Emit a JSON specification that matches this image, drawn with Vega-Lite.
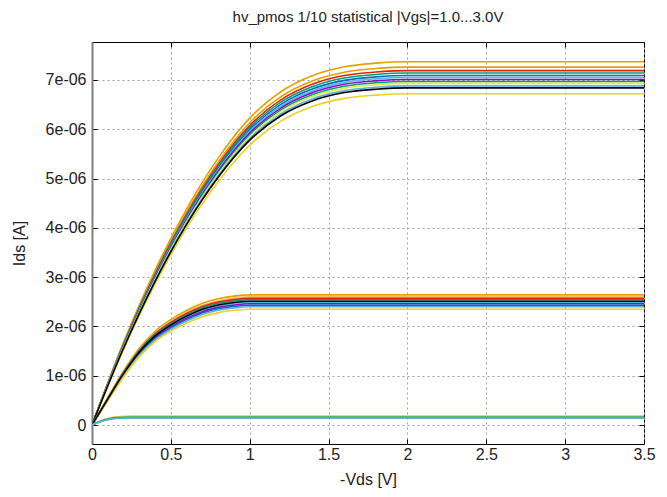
{
"$schema":"https://vega.github.io/schema/vega-lite/v6.json",
"width":552,"height":402,
"autosize":{"type":"none"},
"padding":{"left":92,"top":42,"right":23,"bottom":53},
"background":"white",
"title":{"text":"hv_pmos 1/10 statistical |Vgs|=1.0...3.0V","fontSize":15,"fontWeight":"normal","font":"Liberation Sans","color":"#222","offset":17,"anchor":"middle"},
"config":{
"view":{"stroke":"#000","strokeWidth":1},
"axis":{"labelFont":"Liberation Sans","titleFont":"Liberation Sans","labelFontSize":16,"titleFontSize":16,"titleFontWeight":"normal","labelColor":"#222","titleColor":"#222","tickColor":"#000","gridColor":"#a0a0a0","gridDash":[2,3],"gridWidth":1,"labelFlush":false,"labelOverlap":false}
},
"data":{"values":[
{"curve":"v3a","vds":0,"ids":0},{"curve":"v3a","vds":0.2,"ids":1.678},{"curve":"v3a","vds":0.4,"ids":3.140},{"curve":"v3a","vds":0.6,"ids":4.385},{"curve":"v3a","vds":0.8,"ids":5.414},{"curve":"v3a","vds":1.0,"ids":6.226},{"curve":"v3a","vds":1.2,"ids":6.766},{"curve":"v3a","vds":1.4,"ids":7.090},{"curve":"v3a","vds":1.6,"ids":7.267},{"curve":"v3a","vds":1.8,"ids":7.341},{"curve":"v3a","vds":2.0,"ids":7.37},{"curve":"v3a","vds":3.5,"ids":7.37},
{"curve":"v3b","vds":0,"ids":0},{"curve":"v3b","vds":0.2,"ids":1.653},{"curve":"v3b","vds":0.4,"ids":3.093},{"curve":"v3b","vds":0.6,"ids":4.320},{"curve":"v3b","vds":0.8,"ids":5.333},{"curve":"v3b","vds":1.0,"ids":6.133},{"curve":"v3b","vds":1.2,"ids":6.665},{"curve":"v3b","vds":1.4,"ids":6.984},{"curve":"v3b","vds":1.6,"ids":7.158},{"curve":"v3b","vds":1.8,"ids":7.231},{"curve":"v3b","vds":2.0,"ids":7.26},{"curve":"v3b","vds":3.5,"ids":7.26},
{"curve":"v3c","vds":0,"ids":0},{"curve":"v3c","vds":0.2,"ids":1.637},{"curve":"v3c","vds":0.4,"ids":3.063},{"curve":"v3c","vds":0.6,"ids":4.278},{"curve":"v3c","vds":0.8,"ids":5.282},{"curve":"v3c","vds":1.0,"ids":6.074},{"curve":"v3c","vds":1.2,"ids":6.600},{"curve":"v3c","vds":1.4,"ids":6.917},{"curve":"v3c","vds":1.6,"ids":7.089},{"curve":"v3c","vds":1.8,"ids":7.161},{"curve":"v3c","vds":2.0,"ids":7.19},{"curve":"v3c","vds":3.5,"ids":7.19},
{"curve":"v3d","vds":0,"ids":0},{"curve":"v3d","vds":0.2,"ids":1.626},{"curve":"v3d","vds":0.4,"ids":3.042},{"curve":"v3d","vds":0.6,"ids":4.248},{"curve":"v3d","vds":0.8,"ids":5.245},{"curve":"v3d","vds":1.0,"ids":6.032},{"curve":"v3d","vds":1.2,"ids":6.555},{"curve":"v3d","vds":1.4,"ids":6.869},{"curve":"v3d","vds":1.6,"ids":7.040},{"curve":"v3d","vds":1.8,"ids":7.111},{"curve":"v3d","vds":2.0,"ids":7.14},{"curve":"v3d","vds":3.5,"ids":7.14},
{"curve":"v3e","vds":0,"ids":0},{"curve":"v3e","vds":0.2,"ids":1.614},{"curve":"v3e","vds":0.4,"ids":3.020},{"curve":"v3e","vds":0.6,"ids":4.219},{"curve":"v3e","vds":0.8,"ids":5.208},{"curve":"v3e","vds":1.0,"ids":5.990},{"curve":"v3e","vds":1.2,"ids":6.509},{"curve":"v3e","vds":1.4,"ids":6.821},{"curve":"v3e","vds":1.6,"ids":6.991},{"curve":"v3e","vds":1.8,"ids":7.062},{"curve":"v3e","vds":2.0,"ids":7.09},{"curve":"v3e","vds":3.5,"ids":7.09},
{"curve":"v3f","vds":0,"ids":0},{"curve":"v3f","vds":0.2,"ids":1.605},{"curve":"v3f","vds":0.4,"ids":3.003},{"curve":"v3f","vds":0.6,"ids":4.195},{"curve":"v3f","vds":0.8,"ids":5.179},{"curve":"v3f","vds":1.0,"ids":5.956},{"curve":"v3f","vds":1.2,"ids":6.472},{"curve":"v3f","vds":1.4,"ids":6.782},{"curve":"v3f","vds":1.6,"ids":6.951},{"curve":"v3f","vds":1.8,"ids":7.022},{"curve":"v3f","vds":2.0,"ids":7.05},{"curve":"v3f","vds":3.5,"ids":7.05},
{"curve":"v3g","vds":0,"ids":0},{"curve":"v3g","vds":0.2,"ids":1.596},{"curve":"v3g","vds":0.4,"ids":2.986},{"curve":"v3g","vds":0.6,"ids":4.171},{"curve":"v3g","vds":0.8,"ids":5.150},{"curve":"v3g","vds":1.0,"ids":5.922},{"curve":"v3g","vds":1.2,"ids":6.435},{"curve":"v3g","vds":1.4,"ids":6.744},{"curve":"v3g","vds":1.6,"ids":6.912},{"curve":"v3g","vds":1.8,"ids":6.982},{"curve":"v3g","vds":2.0,"ids":7.01},{"curve":"v3g","vds":3.5,"ids":7.01},
{"curve":"v3h","vds":0,"ids":0},{"curve":"v3h","vds":0.2,"ids":1.587},{"curve":"v3h","vds":0.4,"ids":2.969},{"curve":"v3h","vds":0.6,"ids":4.147},{"curve":"v3h","vds":0.8,"ids":5.120},{"curve":"v3h","vds":1.0,"ids":5.888},{"curve":"v3h","vds":1.2,"ids":6.398},{"curve":"v3h","vds":1.4,"ids":6.705},{"curve":"v3h","vds":1.6,"ids":6.872},{"curve":"v3h","vds":1.8,"ids":6.942},{"curve":"v3h","vds":2.0,"ids":6.97},{"curve":"v3h","vds":3.5,"ids":6.97},
{"curve":"v3i","vds":0,"ids":0},{"curve":"v3i","vds":0.2,"ids":1.578},{"curve":"v3i","vds":0.4,"ids":2.952},{"curve":"v3i","vds":0.6,"ids":4.123},{"curve":"v3i","vds":0.8,"ids":5.091},{"curve":"v3i","vds":1.0,"ids":5.854},{"curve":"v3i","vds":1.2,"ids":6.362},{"curve":"v3i","vds":1.4,"ids":6.667},{"curve":"v3i","vds":1.6,"ids":6.833},{"curve":"v3i","vds":1.8,"ids":6.902},{"curve":"v3i","vds":2.0,"ids":6.93},{"curve":"v3i","vds":3.5,"ids":6.93},
{"curve":"v3j","vds":0,"ids":0},{"curve":"v3j","vds":0.2,"ids":1.567},{"curve":"v3j","vds":0.4,"ids":2.931},{"curve":"v3j","vds":0.6,"ids":4.094},{"curve":"v3j","vds":0.8,"ids":5.054},{"curve":"v3j","vds":1.0,"ids":5.812},{"curve":"v3j","vds":1.2,"ids":6.316},{"curve":"v3j","vds":1.4,"ids":6.619},{"curve":"v3j","vds":1.6,"ids":6.784},{"curve":"v3j","vds":1.8,"ids":6.852},{"curve":"v3j","vds":2.0,"ids":6.88},{"curve":"v3j","vds":3.5,"ids":6.88},
{"curve":"v3l","vds":0,"ids":0},{"curve":"v3l","vds":0.2,"ids":1.530},{"curve":"v3l","vds":0.4,"ids":2.863},{"curve":"v3l","vds":0.6,"ids":3.998},{"curve":"v3l","vds":0.8,"ids":4.937},{"curve":"v3l","vds":1.0,"ids":5.677},{"curve":"v3l","vds":1.2,"ids":6.169},{"curve":"v3l","vds":1.4,"ids":6.465},{"curve":"v3l","vds":1.6,"ids":6.626},{"curve":"v3l","vds":1.8,"ids":6.693},{"curve":"v3l","vds":2.0,"ids":6.72},{"curve":"v3l","vds":3.5,"ids":6.72},
{"curve":"v3k","vds":0,"ids":0},{"curve":"v3k","vds":0.2,"ids":1.557},{"curve":"v3k","vds":0.4,"ids":2.914},{"curve":"v3k","vds":0.6,"ids":4.070},{"curve":"v3k","vds":0.8,"ids":5.025},{"curve":"v3k","vds":1.0,"ids":5.778},{"curve":"v3k","vds":1.2,"ids":6.279},{"curve":"v3k","vds":1.4,"ids":6.580},{"curve":"v3k","vds":1.6,"ids":6.744},{"curve":"v3k","vds":1.8,"ids":6.813},{"curve":"v3k","vds":2.0,"ids":6.84},{"curve":"v3k","vds":3.5,"ids":6.84},
{"curve":"v2a","vds":0,"ids":0},{"curve":"v2a","vds":0.1,"ids":0.554},{"curve":"v2a","vds":0.2,"ids":1.096},{"curve":"v2a","vds":0.3,"ids":1.558},{"curve":"v2a","vds":0.4,"ids":1.901},{"curve":"v2a","vds":0.5,"ids":2.138},{"curve":"v2a","vds":0.6,"ids":2.323},{"curve":"v2a","vds":0.7,"ids":2.468},{"curve":"v2a","vds":0.8,"ids":2.561},{"curve":"v2a","vds":0.9,"ids":2.614},{"curve":"v2a","vds":1.0,"ids":2.64},{"curve":"v2a","vds":3.5,"ids":2.64},
{"curve":"v2b","vds":0,"ids":0},{"curve":"v2b","vds":0.1,"ids":0.546},{"curve":"v2b","vds":0.2,"ids":1.079},{"curve":"v2b","vds":0.3,"ids":1.534},{"curve":"v2b","vds":0.4,"ids":1.872},{"curve":"v2b","vds":0.5,"ids":2.106},{"curve":"v2b","vds":0.6,"ids":2.288},{"curve":"v2b","vds":0.7,"ids":2.431},{"curve":"v2b","vds":0.8,"ids":2.522},{"curve":"v2b","vds":0.9,"ids":2.574},{"curve":"v2b","vds":1.0,"ids":2.60},{"curve":"v2b","vds":3.5,"ids":2.60},
{"curve":"v2c","vds":0,"ids":0},{"curve":"v2c","vds":0.1,"ids":0.540},{"curve":"v2c","vds":0.2,"ids":1.067},{"curve":"v2c","vds":0.3,"ids":1.516},{"curve":"v2c","vds":0.4,"ids":1.850},{"curve":"v2c","vds":0.5,"ids":2.082},{"curve":"v2c","vds":0.6,"ids":2.262},{"curve":"v2c","vds":0.7,"ids":2.403},{"curve":"v2c","vds":0.8,"ids":2.493},{"curve":"v2c","vds":0.9,"ids":2.544},{"curve":"v2c","vds":1.0,"ids":2.57},{"curve":"v2c","vds":3.5,"ids":2.57},
{"curve":"v2d","vds":0,"ids":0},{"curve":"v2d","vds":0.1,"ids":0.533},{"curve":"v2d","vds":0.2,"ids":1.054},{"curve":"v2d","vds":0.3,"ids":1.499},{"curve":"v2d","vds":0.4,"ids":1.829},{"curve":"v2d","vds":0.5,"ids":2.057},{"curve":"v2d","vds":0.6,"ids":2.235},{"curve":"v2d","vds":0.7,"ids":2.375},{"curve":"v2d","vds":0.8,"ids":2.464},{"curve":"v2d","vds":0.9,"ids":2.515},{"curve":"v2d","vds":1.0,"ids":2.54},{"curve":"v2d","vds":3.5,"ids":2.54},
{"curve":"v2f","vds":0,"ids":0},{"curve":"v2f","vds":0.1,"ids":0.523},{"curve":"v2f","vds":0.2,"ids":1.033},{"curve":"v2f","vds":0.3,"ids":1.469},{"curve":"v2f","vds":0.4,"ids":1.793},{"curve":"v2f","vds":0.5,"ids":2.017},{"curve":"v2f","vds":0.6,"ids":2.191},{"curve":"v2f","vds":0.7,"ids":2.328},{"curve":"v2f","vds":0.8,"ids":2.415},{"curve":"v2f","vds":0.9,"ids":2.465},{"curve":"v2f","vds":1.0,"ids":2.49},{"curve":"v2f","vds":3.5,"ids":2.49},
{"curve":"v2g","vds":0,"ids":0},{"curve":"v2g","vds":0.1,"ids":0.517},{"curve":"v2g","vds":0.2,"ids":1.021},{"curve":"v2g","vds":0.3,"ids":1.451},{"curve":"v2g","vds":0.4,"ids":1.771},{"curve":"v2g","vds":0.5,"ids":1.993},{"curve":"v2g","vds":0.6,"ids":2.165},{"curve":"v2g","vds":0.7,"ids":2.300},{"curve":"v2g","vds":0.8,"ids":2.386},{"curve":"v2g","vds":0.9,"ids":2.435},{"curve":"v2g","vds":1.0,"ids":2.46},{"curve":"v2g","vds":3.5,"ids":2.46},
{"curve":"v2h","vds":0,"ids":0},{"curve":"v2h","vds":0.1,"ids":0.510},{"curve":"v2h","vds":0.2,"ids":1.008},{"curve":"v2h","vds":0.3,"ids":1.434},{"curve":"v2h","vds":0.4,"ids":1.750},{"curve":"v2h","vds":0.5,"ids":1.968},{"curve":"v2h","vds":0.6,"ids":2.138},{"curve":"v2h","vds":0.7,"ids":2.272},{"curve":"v2h","vds":0.8,"ids":2.357},{"curve":"v2h","vds":0.9,"ids":2.406},{"curve":"v2h","vds":1.0,"ids":2.43},{"curve":"v2h","vds":3.5,"ids":2.43},
{"curve":"v2i","vds":0,"ids":0},{"curve":"v2i","vds":0.1,"ids":0.504},{"curve":"v2i","vds":0.2,"ids":0.996},{"curve":"v2i","vds":0.3,"ids":1.416},{"curve":"v2i","vds":0.4,"ids":1.728},{"curve":"v2i","vds":0.5,"ids":1.944},{"curve":"v2i","vds":0.6,"ids":2.112},{"curve":"v2i","vds":0.7,"ids":2.244},{"curve":"v2i","vds":0.8,"ids":2.328},{"curve":"v2i","vds":0.9,"ids":2.376},{"curve":"v2i","vds":1.0,"ids":2.40},{"curve":"v2i","vds":3.5,"ids":2.40},
{"curve":"v2j","vds":0,"ids":0},{"curve":"v2j","vds":0.1,"ids":0.494},{"curve":"v2j","vds":0.2,"ids":0.975},{"curve":"v2j","vds":0.3,"ids":1.387},{"curve":"v2j","vds":0.4,"ids":1.692},{"curve":"v2j","vds":0.5,"ids":1.904},{"curve":"v2j","vds":0.6,"ids":2.068},{"curve":"v2j","vds":0.7,"ids":2.197},{"curve":"v2j","vds":0.8,"ids":2.280},{"curve":"v2j","vds":0.9,"ids":2.327},{"curve":"v2j","vds":1.0,"ids":2.35},{"curve":"v2j","vds":3.5,"ids":2.35},
{"curve":"v2e","vds":0,"ids":0},{"curve":"v2e","vds":0.1,"ids":0.527},{"curve":"v2e","vds":0.2,"ids":1.042},{"curve":"v2e","vds":0.3,"ids":1.481},{"curve":"v2e","vds":0.4,"ids":1.807},{"curve":"v2e","vds":0.5,"ids":2.033},{"curve":"v2e","vds":0.6,"ids":2.209},{"curve":"v2e","vds":0.7,"ids":2.347},{"curve":"v2e","vds":0.8,"ids":2.435},{"curve":"v2e","vds":0.9,"ids":2.485},{"curve":"v2e","vds":1.0,"ids":2.51},{"curve":"v2e","vds":3.5,"ids":2.51},
{"curve":"v1a","vds":0,"ids":0},{"curve":"v1a","vds":0.05,"ids":0.079},{"curve":"v1a","vds":0.1,"ids":0.131},{"curve":"v1a","vds":0.15,"ids":0.163},{"curve":"v1a","vds":0.2,"ids":0.173},{"curve":"v1a","vds":0.25,"ids":0.175},{"curve":"v1a","vds":3.5,"ids":0.175},
{"curve":"v1b","vds":0,"ids":0},{"curve":"v1b","vds":0.05,"ids":0.076},{"curve":"v1b","vds":0.1,"ids":0.126},{"curve":"v1b","vds":0.15,"ids":0.156},{"curve":"v1b","vds":0.2,"ids":0.166},{"curve":"v1b","vds":0.25,"ids":0.168},{"curve":"v1b","vds":3.5,"ids":0.168},
{"curve":"v1c","vds":0,"ids":0},{"curve":"v1c","vds":0.05,"ids":0.071},{"curve":"v1c","vds":0.1,"ids":0.119},{"curve":"v1c","vds":0.15,"ids":0.147},{"curve":"v1c","vds":0.2,"ids":0.156},{"curve":"v1c","vds":0.25,"ids":0.158},{"curve":"v1c","vds":3.5,"ids":0.158},
{"curve":"v1d","vds":0,"ids":0},{"curve":"v1d","vds":0.05,"ids":0.068},{"curve":"v1d","vds":0.1,"ids":0.113},{"curve":"v1d","vds":0.15,"ids":0.140},{"curve":"v1d","vds":0.2,"ids":0.149},{"curve":"v1d","vds":0.25,"ids":0.150},{"curve":"v1d","vds":3.5,"ids":0.150},
{"curve":"v1e","vds":0,"ids":0},{"curve":"v1e","vds":0.05,"ids":0.064},{"curve":"v1e","vds":0.1,"ids":0.107},{"curve":"v1e","vds":0.15,"ids":0.133},{"curve":"v1e","vds":0.2,"ids":0.142},{"curve":"v1e","vds":0.25,"ids":0.143},{"curve":"v1e","vds":3.5,"ids":0.143}
]},
"layer":[
{"mark":{"type":"line","interpolate":"monotone","strokeWidth":1.6,"clip":true},
"encoding":{
"x":{"field":"vds","type":"quantitative","scale":{"domain":[0,3.5],"nice":false,"zero":false},
"axis":{"title":"-Vds [V]","values":[0,0.5,1,1.5,2,2.5,3,3.5],"format":"~g","grid":true,"domain":false,"tickSize":-5,"labelPadding":7,"titlePadding":9}},
"y":{"field":"ids","type":"quantitative","scale":{"domain":[-0.385,7.77],"nice":false,"zero":false},
"axis":{"title":"Ids [A]","values":[0,1,2,3,4,5,6,7],"labelExpr":"datum.value==0?'0':datum.value+'e-06'","grid":true,"domain":true,"domainColor":"#808080","domainWidth":2,"tickSize":-5,"labelPadding":11,"titlePadding":18}},
"color":{"field":"curve","type":"nominal","legend":null,
"scale":{"domain":["v3a","v3b","v3c","v3d","v3e","v3f","v3g","v3h","v3i","v3j","v3l","v3k","v2a","v2b","v2c","v2d","v2f","v2g","v2h","v2i","v2j","v2e","v1a","v1b","v1c","v1d","v1e"],
"range":["#e69f00","#e69f00","#e51e10","#009e73","#0072b2","#56b4e9","#9400d3","#009e73","#f0e442","#56b4e9","#f0d020","#000000","#e69f00","#f0c060","#e51e10","#009e73","#56b4e9","#9400d3","#0072b2","#56b4e9","#f0d020","#000000","#e69f00","#f0e442","#009e73","#009e73","#56b4e9"]}}
}},
{"mark":{"type":"line","opacity":0},
"encoding":{
"x":{"field":"vds","type":"quantitative","axis":{"orient":"top","title":null,"labels":false,"grid":false,"domain":false,"tickSize":-5,"values":[0,0.5,1,1.5,2,2.5,3,3.5]}},
"y":{"field":"ids","type":"quantitative","axis":{"orient":"right","title":null,"labels":false,"grid":false,"domain":false,"tickSize":-5,"values":[0,1,2,3,4,5,6,7]}},
"detail":{"field":"curve"}
}}
],
"resolve":{"axis":{"x":"independent","y":"independent"}}
}
